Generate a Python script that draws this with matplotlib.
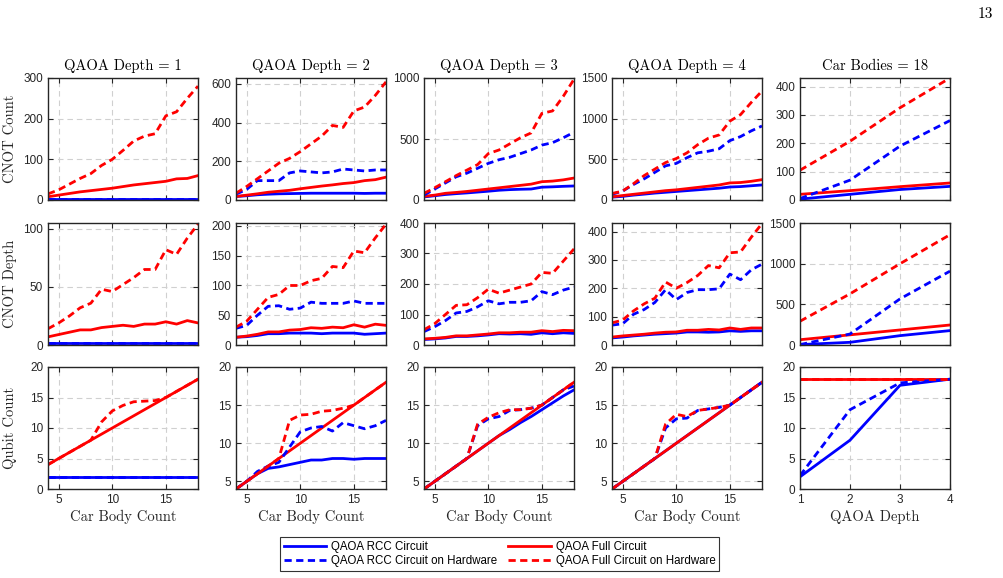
import matplotlib
matplotlib.use("Agg")
import matplotlib.pyplot as plt
from matplotlib.lines import Line2D

# x values
car_bodies = [4, 5, 6, 7, 8, 9, 10, 11, 12, 13, 14, 15, 16, 17, 18]
qaoa_depths = [1, 2, 3, 4]
depth_titles = ["QAOA Depth = 1", "QAOA Depth = 2", "QAOA Depth = 3", "QAOA Depth = 4"]

# CNOT count, one row per QAOA depth
count_rcc = [
    [2, 2, 2, 2, 2, 2, 2, 2, 2, 2, 2, 2, 2, 2, 2],
    [18, 22, 27, 30, 32, 33, 34, 35, 35, 35, 35, 35, 34, 35, 35],
    [25, 35, 45, 52, 58, 65, 72, 80, 85, 88, 90, 105, 108, 112, 115],
    [35, 45, 60, 72, 85, 95, 105, 115, 125, 135, 145, 160, 165, 175, 185],
]
count_full = [
    [8, 12, 16, 20, 23, 26, 29, 33, 37, 40, 43, 46, 52, 53, 60],
    [18, 25, 32, 40, 45, 50, 58, 65, 72, 78, 85, 90, 100, 105, 118],
    [30, 40, 55, 62, 70, 80, 90, 100, 110, 120, 130, 150, 155, 165, 180],
    [40, 55, 70, 85, 100, 115, 125, 140, 155, 170, 185, 210, 215, 230, 250],
]
count_rcc_hw = [
    [2, 2, 2, 2, 2, 2, 2, 2, 2, 2, 2, 2, 2, 2, 2],
    [30, 55, 100, 100, 100, 140, 150, 145, 140, 145, 160, 155, 150, 155, 155],
    [40, 90, 140, 190, 220, 260, 300, 330, 350, 380, 410, 450, 470, 510, 555],
    [70, 110, 190, 260, 340, 420, 450, 520, 580, 600, 630, 730, 780, 850, 910],
]
count_full_hw = [
    [15, 25, 39, 53, 65, 85, 100, 122, 145, 157, 163, 207, 217, 250, 280],
    [35, 70, 110, 150, 190, 215, 250, 290, 330, 385, 375, 460, 480, 540, 610],
    [55, 100, 150, 200, 245, 290, 380, 410, 460, 510, 550, 710, 730, 850, 990],
    [80, 110, 200, 300, 380, 460, 510, 580, 680, 760, 800, 970, 1050, 1200, 1340],
]

# CNOT depth
depth_rcc = [
    [2, 2, 2, 2, 2, 2, 2, 2, 2, 2, 2, 2, 2, 2, 2],
    [13, 14, 16, 19, 19, 20, 20, 20, 19, 20, 20, 20, 18, 19, 20],
    [18, 20, 23, 28, 28, 30, 33, 37, 36, 37, 35, 40, 37, 40, 38],
    [25, 28, 32, 35, 38, 40, 42, 46, 46, 45, 46, 50, 48, 50, 50],
]
depth_full = [
    [7, 9, 11, 13, 13, 15, 16, 17, 16, 18, 18, 20, 18, 21, 19],
    [13, 15, 18, 22, 22, 25, 26, 29, 28, 30, 29, 34, 30, 35, 33],
    [20, 22, 25, 30, 30, 33, 36, 40, 40, 42, 42, 47, 44, 48, 47],
    [28, 32, 35, 38, 42, 45, 46, 52, 52, 55, 53, 60, 55, 60, 60],
]
depth_rcc_hw = [
    [2, 2, 2, 2, 2, 2, 2, 2, 2, 2, 2, 2, 2, 2, 2],
    [28, 33, 50, 65, 66, 60, 62, 72, 70, 70, 70, 74, 70, 70, 70],
    [44, 60, 80, 105, 110, 125, 145, 135, 140, 140, 145, 175, 165, 180, 190],
    [70, 75, 108, 125, 150, 195, 160, 185, 195, 195, 198, 250, 230, 265, 285],
]
depth_full_hw = [
    [14, 19, 25, 32, 36, 48, 46, 52, 58, 65, 65, 82, 78, 92, 104],
    [30, 40, 60, 80, 85, 100, 100, 108, 112, 132, 130, 158, 155, 180, 203],
    [50, 70, 100, 130, 132, 155, 183, 170, 180, 190, 200, 238, 235, 275, 315],
    [78, 88, 120, 145, 165, 222, 200, 220, 245, 280, 272, 325, 328, 380, 428],
]

# qubit count
qubit_rcc = [
    [2, 2, 2, 2, 2, 2, 2, 2, 2, 2, 2, 2, 2, 2, 2],
    [4, 5, 6, 6.7, 6.9, 7.2, 7.5, 7.8, 7.8, 8, 8, 7.9, 8, 8, 8],
    [4, 5, 6, 7, 8, 9, 10, 11, 11.8, 12.7, 13.5, 14.4, 15.3, 16.2, 17],
    [4, 5, 6, 7, 8, 9, 10, 11, 12, 13, 14, 15, 16, 17, 18],
]
qubit_full = [
    [4, 5, 6, 7, 8, 9, 10, 11, 12, 13, 14, 15, 16, 17, 18],
    [4, 5, 6, 7, 8, 9, 10, 11, 12, 13, 14, 15, 16, 17, 18],
    [4, 5, 6, 7, 8, 9, 10, 11, 12, 13, 14, 15, 16, 17, 18],
    [4, 5, 6, 7, 8, 9, 10, 11, 12, 13, 14, 15, 16, 17, 18],
]
qubit_rcc_hw = [
    [2, 2, 2, 2, 2, 2, 2, 2, 2, 2, 2, 2, 2, 2, 2],
    [4, 5, 6.3, 7, 7.5, 9.5, 11.5, 12, 12.2, 11.6, 12.7, 12.3, 11.9, 12.3, 13],
    [4, 5, 6, 7, 8, 12.3, 13.2, 13.5, 14.3, 14.4, 14.6, 15, 16, 17, 17.5],
    [4, 5, 6, 7, 8, 12, 13.2, 13.3, 14.3, 14.5, 14.7, 15, 16, 17, 18],
]
qubit_full_hw = [
    [4, 5, 6, 7, 8, 11, 12.8, 13.7, 14.3, 14.4, 14.5, 15, 16, 17, 18],
    [4, 5, 6, 7, 8, 13, 13.7, 13.8, 14.2, 14.3, 14.6, 15, 16, 17, 18],
    [4, 5, 6, 7, 8, 12.5, 13.4, 14, 14.4, 14.4, 14.6, 15, 16, 17, 18],
    [4, 5, 6, 7, 8, 12.5, 13.8, 13.5, 14.3, 14.5, 14.7, 15, 16, 17, 18],
]

# car bodies = 18, against QAOA depth
cb_count = {"rcc": [3, 20, 37, 48], "full": [20, 33, 47, 60],
            "rcc_hw": [5, 70, 190, 280], "full_hw": [105, 207, 325, 430]}
cb_depth = {"rcc": [5, 33, 115, 177], "full": [65, 125, 185, 246],
            "rcc_hw": [5, 135, 567, 908], "full_hw": [292, 629, 999, 1356]}
cb_qubit = {"rcc": [2, 8, 17, 18], "full": [18, 18, 18, 18],
            "rcc_hw": [2.2, 13, 17.4, 18], "full_hw": [18, 18, 18, 18]}

row_labels = ["CNOT Count", "CNOT Depth", "Qubit Count"]
ylims = [
    [(0, 300), (0, 630), (0, 1000), (0, 1500), (0, 430)],
    [(0, 105), (0, 205), (0, 400), (0, 430), (0, 1500)],
    [(0, 20), (4, 20), (4, 20), (4, 20), (0, 20)],
]
yticks = [
    [[0, 100, 200, 300], [0, 200, 400, 600], [0, 500, 1000], [0, 500, 1000, 1500], [0, 100, 200, 300, 400]],
    [[0, 50, 100], [0, 50, 100, 150, 200], [0, 100, 200, 300, 400], [0, 100, 200, 300, 400], [0, 500, 1000, 1500]],
    [[0, 5, 10, 15, 20], [5, 10, 15, 20], [5, 10, 15, 20], [5, 10, 15, 20], [0, 5, 10, 15, 20]],
]

SERIF = "cmr10"
SANS = "Liberation Sans"
DARK = "#262626"
LW = 2.0
DASH = (2.6, 1.6)

W, H = 1004, 578
col_left = [48, 236, 424, 612, 800]
row_top = [78, 223, 367]
AX_W, AX_H = 150, 122

fig = plt.figure(figsize=(W / 100, H / 100), dpi=100)

for r in range(3):
    for c in range(5):
        ax = fig.add_axes([col_left[c] / W, 1 - (row_top[r] + AX_H) / H, AX_W / W, AX_H / H])
        if c < 4:
            x = car_bodies
            src = [(count_rcc, count_full, count_rcc_hw, count_full_hw),
                   (depth_rcc, depth_full, depth_rcc_hw, depth_full_hw),
                   (qubit_rcc, qubit_full, qubit_rcc_hw, qubit_full_hw)][r]
            rcc, full, rcc_hw, full_hw = [s[c] for s in src]
            ax.set_xlim(4, 18)
            ax.set_xticks([5, 10, 15])
        else:
            x = qaoa_depths
            d = [cb_count, cb_depth, cb_qubit][r]
            rcc, full, rcc_hw, full_hw = d["rcc"], d["full"], d["rcc_hw"], d["full_hw"]
            ax.set_xlim(1, 4)
            ax.set_xticks([1, 2, 3, 4])

        ax.plot(x, rcc, color="blue", lw=LW)
        ax.plot(x, full, color="red", lw=LW)
        ax.plot(x, rcc_hw, color="blue", lw=LW, ls=(0, DASH))
        ax.plot(x, full_hw, color="red", lw=LW, ls=(0, DASH))

        ax.set_ylim(*ylims[r][c])
        ax.set_yticks(yticks[r][c])
        ax.grid(True, color="#d0d0d0", ls=(0, (5, 3.5)), lw=0.8)
        ax.set_axisbelow(True)
        for sp in ax.spines.values():
            sp.set_color(DARK)
            sp.set_linewidth(1.0)
        ax.tick_params(direction="in", top=True, right=True, length=3.5, width=0.8,
                       colors=DARK, labelsize=8.5)
        for lab in ax.get_xticklabels() + ax.get_yticklabels():
            lab.set_fontfamily(SANS)
        if r < 2:
            ax.set_xticklabels([])
        else:
            ax.set_xlabel("Car Body Count" if c < 4 else "QAOA Depth",
                          fontfamily=SERIF, fontsize=10.5, color=DARK)
            ax.xaxis.set_label_coords(0.5, -0.17)
        if r == 0:
            ax.set_title(depth_titles[c] if c < 4 else "Car Bodies = 18",
                         fontfamily=SERIF, fontsize=10.5, color="black", pad=6)
        if c == 0:
            ax.set_ylabel(row_labels[r], fontfamily=SERIF, fontsize=10.5, color=DARK)
            ax.yaxis.set_label_coords(-0.205, 0.5)

handles = [
    Line2D([], [], color="blue", lw=LW),
    Line2D([], [], color="blue", lw=LW, ls=(0, DASH)),
    Line2D([], [], color="red", lw=LW),
    Line2D([], [], color="red", lw=LW, ls=(0, DASH)),
]
labels = ["QAOA RCC Circuit", "QAOA RCC Circuit on Hardware",
          "QAOA Full Circuit", "QAOA Full Circuit on Hardware"]
leg = fig.legend(handles, labels, ncol=2, loc="center",
                 bbox_to_anchor=(499.5 / W, 1 - 554 / H),
                 prop={"family": SANS, "size": 8.3}, frameon=True, fancybox=False,
                 edgecolor="black", handlelength=3.7, handletextpad=0.45,
                 columnspacing=0.9, labelspacing=0.25, borderpad=0.3)
leg.get_frame().set_linewidth(0.8)

fig.text(985 / W, 1 - 14 / H, "13", fontfamily=SERIF, fontsize=11, ha="center", va="center")

fig.savefig("out.png", dpi=100)
